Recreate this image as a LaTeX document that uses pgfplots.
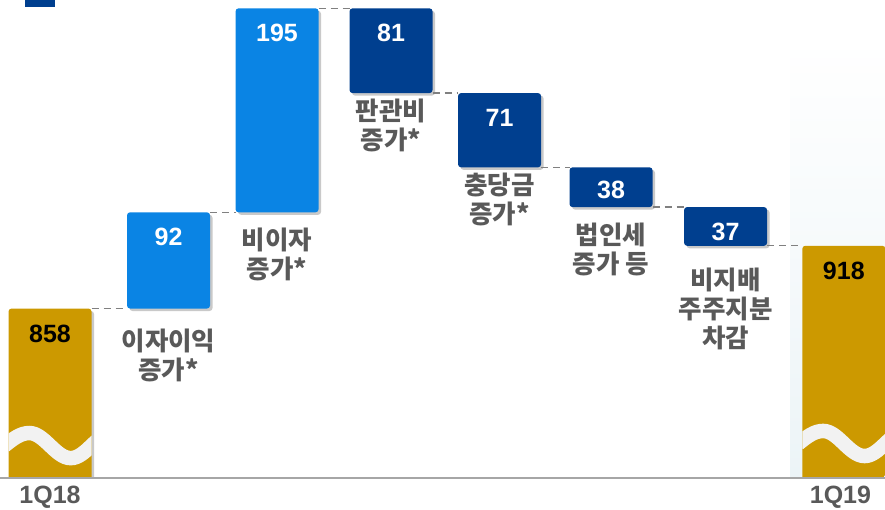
\documentclass[border=0pt]{standalone}
\usepackage{pgfplots}
\usepackage{pgfplotstable}
\pgfplotsset{compat=1.18}
\usepackage{fontspec}
\setmainfont{Liberation Sans}
\newfontfamily\kr{Noto Sans CJK KR}
\usetikzlibrary{shadows}
\definecolor{gold}{HTML}{CC9900}
\definecolor{lblue}{HTML}{0A84E4}
\definecolor{dblue}{HTML}{003F8F}
\definecolor{lblgray}{HTML}{595959}
\definecolor{wavec}{HTML}{F2F2F2}
\definecolor{dashc}{HTML}{808080}

\pgfplotstableread{
x     base gold light dark
0     0    858 0   0
1.045 858  0   92  0
2.002 950  0   195 0
3.007 1064 0   0   81
3.964 993  0   0   71
4.947 955  0   0   38
5.957 918  0   0   37
7     0    918 0   0
}\data

\pgfplotsset{
  base axis/.style={at={(0pt,0pt)}, anchor=south west, scale only axis,
    width=885pt, height=478pt, xmin=-0.441, xmax=7.363, ymin=696, ymax=1153,
    hide axis},
  vis/.style={draw=none, rounded corners=3pt,
    drop shadow={shadow xshift=2.5pt, shadow yshift=-2.5pt, opacity=0.3, fill=black!70}},
  conn/.style={dashc, no marks, line width=1.3pt, dash pattern=on 7pt off 5pt},
}

\begin{document}
\begin{tikzpicture}
\fill[top color=white, bottom color={rgb,255:red,236;green,244;blue,247}] (790pt,0pt) rectangle (885pt,440pt);
\fill[dblue] (25pt,471pt) rectangle (55pt,495pt);
\begin{axis}[base axis, ybar stacked, bar width=83pt, clip mode=individual]
\addplot[draw=none, fill=none] table[x=x, y=base] {\data};
\addplot[vis, fill=gold] table[x=x, y=gold] {\data};
\addplot[vis, fill=lblue] table[x=x, y=light] {\data};
\addplot[vis, fill=dblue] table[x=x, y=dark] {\data};
\end{axis}
\begin{axis}[base axis, clip=false]
% connectors
\addplot[conn] coordinates {(0.366,858) (0.679,858)};
\addplot[conn] coordinates {(1.411,950) (1.636,950)};
\addplot[conn] coordinates {(2.368,1145) (2.641,1145)};
\addplot[conn] coordinates {(3.373,1064) (3.598,1064)};
\addplot[conn] coordinates {(4.330,993) (4.581,993)};
\addplot[conn] coordinates {(5.313,955) (5.591,955)};
\addplot[conn] coordinates {(6.323,918) (6.631,918)};
% baseline
\draw[black!35, line width=1.5pt] (rel axis cs:0,0) -- (rel axis cs:1,0);
% break waves
\begin{scope}
\clip (axis cs:-0.366,696) rectangle (axis cs:0.366,800);
\draw[wavec, line width=14.5pt] (axis cs:-0.40,727) sin (axis cs:-0.183,739) cos (axis cs:0,727) sin (axis cs:0.183,715) cos (axis cs:0.366,727) sin (axis cs:0.55,739);
\end{scope}
\begin{scope}
\clip (axis cs:6.634,696) rectangle (axis cs:7.366,800);
\draw[wavec, line width=14.5pt] (axis cs:6.60,729) sin (axis cs:6.817,741) cos (axis cs:7,729) sin (axis cs:7.183,717) cos (axis cs:7.366,729) sin (axis cs:7.55,741);
\end{scope}
% values
\tikzset{val/.style={font=\bfseries\fontsize{25}{25}\selectfont, yshift=-25pt}}
\node[val, text=black] at (axis cs:0,858) {858};
\node[val, text=white] at (axis cs:1.045,950) {92};
\node[val, text=white] at (axis cs:2.002,1145) {195};
\node[val, text=white] at (axis cs:3.007,1145) {81};
\node[val, text=white] at (axis cs:3.964,1064) {71};
\node[val, text=white, yshift=2pt] at (axis cs:4.947,993) {38};
\node[val, text=white] at (axis cs:5.957,955) {37};
\node[val, text=black] at (axis cs:7,918) {918};
% category labels
\tikzset{cat/.style={anchor=north, align=center, inner sep=0pt, text=lblgray,
  font={\kr\bfseries\fontsize{25.5}{29}\selectfont}}}
\node[cat] at (axis cs:1.045,839) {이자이익\\증가*};
\node[cat] at (axis cs:2.002,935) {비이자\\증가*};
\node[cat] at (axis cs:3.007,1059) {판관비\\증가*};
\node[cat] at (axis cs:3.964,988) {충당금\\증가*};
\node[cat] at (axis cs:4.947,940) {법인세\\증가 등};
\node[cat] at (axis cs:5.957,897) {비지배\\주주지분\\차감};
\node[anchor=north, inner sep=0pt, text=lblgray, font=\bfseries\fontsize{25}{25}\selectfont, yshift=-8pt] at (axis cs:0,696) {1Q18};
\node[anchor=north, inner sep=0pt, text=lblgray, font=\bfseries\fontsize{25}{25}\selectfont, yshift=-8pt] at (axis cs:6.97,696) {1Q19};
\end{axis}
\pgfresetboundingbox
\useasboundingbox (0pt,-31pt) rectangle (885pt,478pt);
\end{tikzpicture}
\end{document}
